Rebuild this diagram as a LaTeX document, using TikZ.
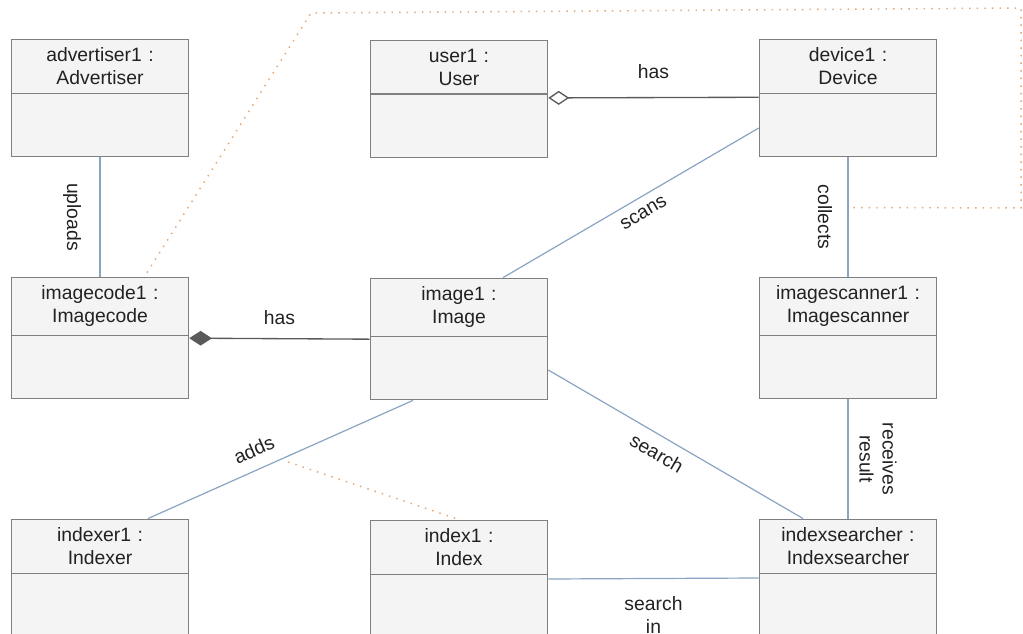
\documentclass[tikz,border=0pt]{standalone}
\usepackage{fontspec}
\setmainfont{Liberation Sans}
\usetikzlibrary{positioning,shapes.multipart,arrows.meta,calc}

\definecolor{boxline}{HTML}{7F7F7F}
\definecolor{boxfill}{HTML}{F4F4F4}
\definecolor{assocline}{HTML}{8AA4C4}
\definecolor{linkline}{HTML}{E2A878}
\definecolor{partline}{HTML}{5A5A5A}
\definecolor{txt}{HTML}{222222}

\newcommand{\umlfont}{\fontsize{14.5}{17.25}\selectfont}
\newcommand{\emptypart}{\rule{0pt}{35pt}}

\tikzset{
  object/.style={rectangle split, rectangle split parts=2, draw=boxline,
    fill=boxfill, line width=0.9pt, text width=127pt, align=center,
    inner xsep=3pt, inner ysep=5.9pt, text=txt, font=\umlfont},
  assoc/.style={draw=assocline, line width=0.9pt},
  haspart/.style={draw=partline, line width=1pt},
  anchorlink/.style={draw=linkline, line width=1.1pt,
    dash pattern=on 1.1pt off 4.6pt},
  lbl/.style={font=\umlfont, text=txt, inner sep=2pt}
}

\begin{document}
\begin{tikzpicture}[x=0.75pt,y=-0.75pt,node distance=180pt]
    \useasboundingbox (0,0) rectangle (1023,634);
    \fill[white] (0,0) rectangle (1023,634);
    \clip (0,0) rectangle (1023,634);

    \node[object] (advertiser) at (100,98) {advertiser1 :\\ Advertiser \nodepart{two}\emptypart};
    \node[object] (user) at (459,99) {user1 :\\ User \nodepart{two}\emptypart};
    \node[object] (device) at (848,98) {device1 :\\ Device \nodepart{two}\emptypart};
    \node[object] (imagecode) [below of=advertiser] {imagecode1 :\\ Imagecode \nodepart{two}\emptypart};
    \node[object] (image) [below of=user] {image1 :\\ Image \nodepart{two}\emptypart};
    \node[object] (imagescanner) [below of=device] {imagescanner1 :\\ Imagescanner \nodepart{two}\emptypart};
    \node[object] (indexer) [below of=imagecode] {indexer1 :\\ Indexer \nodepart{two}\emptypart};
    \node[object] (index) [below of=image] {index1 :\\ Index \nodepart{two}\emptypart};
    \node[object] (indexsearcher) [below of=imagescanner] {indexsearcher :\\ Indexsearcher \nodepart{two}\emptypart};

    % associations
    \draw[assoc] (advertiser) -- node[lbl, midway, shift={(-28,0)}, rotate=-90] {uploads} (imagecode);
    \draw[assoc] (device) -- node[lbl, midway, shift={(-23,0)}, rotate=-90] {collects}
        coordinate[pos=0.42] (collectspt) (imagescanner);
    \draw[assoc] (imagescanner) -- node[lbl, midway, shift={(30,0)}, rotate=-90, align=center] {receives\\result} (indexsearcher);
    \draw[assoc] ($(device.west)+(0,30)$) -- node[lbl, sloped, pos=0.48, below=5pt] {scans} ($(image.north)+(44,0)$);
    \draw[assoc] ($(image.south)+(-46,0)$) -- node[lbl, sloped, pos=0.57, above=7pt] {adds}
        coordinate[pos=0.5] (addsmid) ($(indexer.north)+(48,0)$);
    \draw[assoc] ($(image.east)+(0,31)$) -- node[lbl, sloped, pos=0.46, below=5pt] {search} ($(indexsearcher.north)+(-45,0)$);
    \draw[assoc] (index.east) -- node[lbl, midway, yshift=-27pt, align=center] {search\\in} (indexsearcher.west);

    % aggregation and composition
    \draw[haspart, {Diamond[open, length=15.75pt, width=10.5pt]}-] ($(user.text split east)+(0,4)$)
        -- node[lbl, midway, yshift=19.5pt] {has} ($(device.text split west)+(0,4)$);
    \draw[haspart, {Diamond[fill=partline, length=17pt, width=11pt]}-] ($(imagecode.text split east)+(0,3)$)
        -- node[lbl, midway, yshift=15.75pt] {has} ($(image.text split west)+(0,3)$);

    % anchor links
    \draw[anchorlink] ($(imagecode.north)+(47,-4)$) -- (311,13) -- (1021,8) -- (1021,208) -- ($(collectspt)+(3,0)$);
    \draw[anchorlink, shorten <=6pt] (addsmid) -- (index.north);
\end{tikzpicture}
\end{document}
